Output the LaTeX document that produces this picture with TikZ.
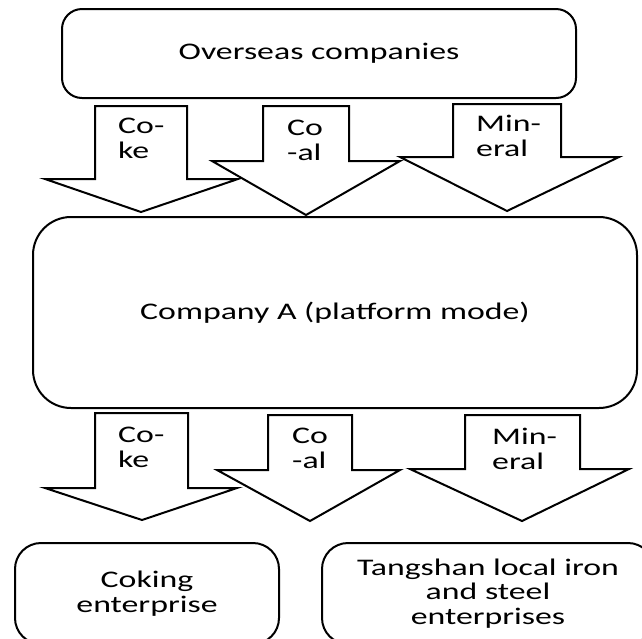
\documentclass[tikz,border=0pt]{standalone}
\usepackage{fontspec}
\setmainfont{Carlito}[FakeStretch=1.42]
% Block arrow pointing down:
% #1 shaft left, #2 shaft right, #3 shaft top, #4 head base,
% #5 head left, #6 head right, #7 tip x, #8 tip y
\newcommand\downflow[8]{%
  \draw[flow] (#1,#3) -- (#2,#3) -- (#2,#4) -- (#6,#4) -- (#7,#8)
    -- (#5,#4) -- (#1,#4) -- cycle;}
\begin{document}
\begin{tikzpicture}[x=1pt,y=-1pt,
  boxnode/.style={draw, line width=2pt, fill=white, rounded corners=#1,
    inner sep=0pt, align=center, font=\fontsize{23.8}{24.5}\selectfont},
  flow/.style={draw, line width=2pt, fill=white, line join=miter},
  flowtext/.style={inner sep=0pt, align=left, anchor=west,
    font=\fontsize{23.8}{25}\selectfont}]
\useasboundingbox (0,0) rectangle (642,638);

% boxes
\node[boxnode=20pt, minimum width=514, minimum height=89] (over) at (319,53.5)
  {Overseas companies};
\node[boxnode=38pt, minimum width=604, minimum height=191] (compA) at (335,312.5)
  {Company A (platform mode)};
\node[boxnode=26pt, minimum width=264, minimum height=101] (coking) at (147,593.5)
  {Coking\\enterprise};
\node[boxnode=26pt, minimum width=332, minimum height=101] (tangshan) at (488,593.5)
  {Tangshan local iron\\and steel\\enterprises};

% flows from overseas companies to company A
\downflow{95}{187}{106}{179}{45}{238}{141}{212}
\downflow{263}{349}{106}{161}{212}{400}{306}{215}
\downflow{453}{561}{104}{157}{400}{619}{507}{211}
\node[flowtext] (cokeA) at (118,138.5) {Co-\\ke};
\node[flowtext] (coalA) at (287,140.5) {Co\\-al};
\node[flowtext] (minA) at (476,135.5) {Min-\\eral};

% flows from company A to local enterprises
\downflow{95}{188}{413}{488}{45}{237}{142}{520}
\downflow{268}{352}{415}{470}{217}{400}{310}{521}
\downflow{465}{580}{415}{469}{410}{629}{522}{521}
\node[flowtext] (cokeB) at (118,447.5) {Co-\\ke};
\node[flowtext] (coalB) at (292,448.5) {Co\\-al};
\node[flowtext] (minB) at (492,448.5) {Min-\\eral};
\end{tikzpicture}
\end{document}
